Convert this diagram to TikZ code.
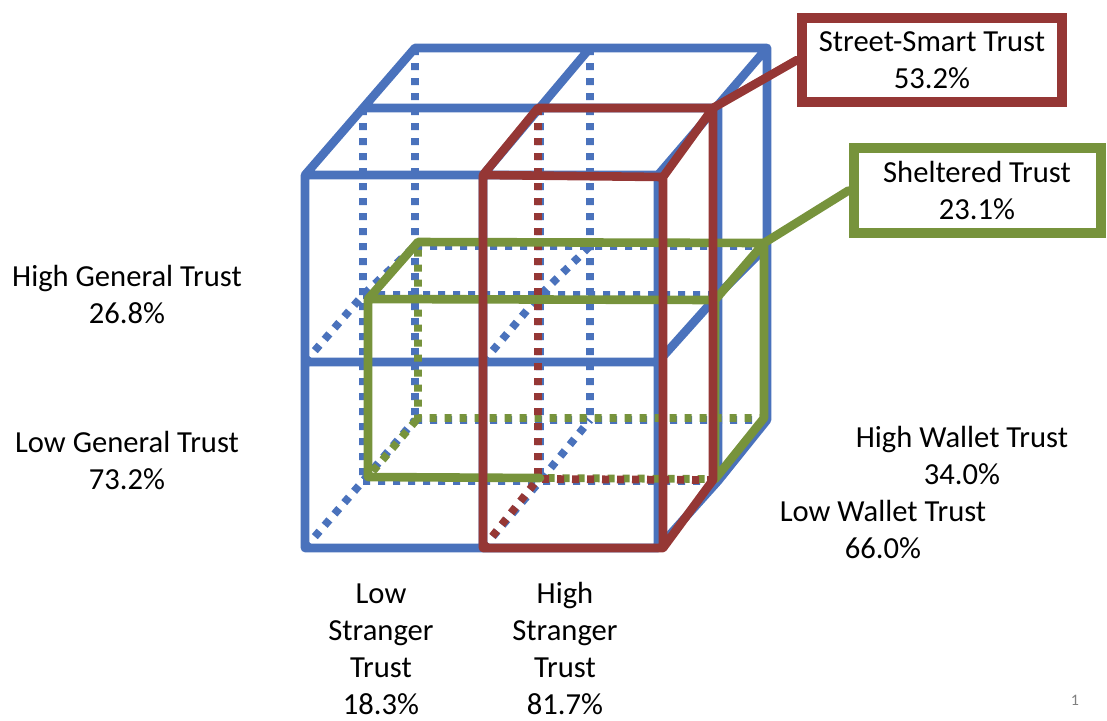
\documentclass[tikz,border=0pt]{standalone}
\usepackage{fontspec}
\setmainfont{Carlito}
\definecolor{cblue}{HTML}{4A72BC}
\definecolor{cred}{HTML}{953735}
\definecolor{cgreen}{HTML}{77933C}
\begin{document}
\begin{tikzpicture}[x=0.5pt,y=-0.5pt,
  solidln/.style={line width=4.3pt,line cap=round,line join=round},
  dotln/.style={line width=3.9pt,dash pattern=on 3.6pt off 3.9pt},
  bluesolid/.style={solidln,draw=cblue},
  bluedot/.style={dotln,draw=cblue},
  greensolid/.style={solidln,draw=cgreen},
  greendot/.style={dotln,draw=cgreen,dash phase=3.75pt},
  redsolid/.style={solidln,draw=cred},
  reddot/.style={dotln,draw=cred},
  lbl/.style={align=center,inner sep=0pt,font=\fontsize{15.3pt}{18.5pt}\selectfont},
  callout/.style={draw=#1,line width=5pt,fill=white,align=center,inner sep=0pt,
    font=\fontsize{15.3pt}{18.5pt}\selectfont}]
\useasboundingbox (0,0) rectangle (1107,720);
% blue cube grid
\coordinate (fTL) at (305,175); \coordinate (fTM) at (483,175); \coordinate (fTR) at (658,175);
\coordinate (fML) at (305,362); \coordinate (fMM) at (483,362); \coordinate (fMR) at (658,362);
\coordinate (fBL) at (305,548); \coordinate (fBM) at (483,548); \coordinate (fBR) at (658,548);
\coordinate (hTL) at (363,108); \coordinate (hTM) at (540,108); \coordinate (hTR) at (718,108);
\coordinate (hML) at (363,295); \coordinate (hMM) at (540,295); \coordinate (hMR) at (718,295);
\coordinate (hBL) at (363,481); \coordinate (hBM) at (540,481); \coordinate (hBR) at (718,481);
\coordinate (bTL) at (415,48);  \coordinate (bTM) at (590,48);  \coordinate (bTR) at (767,48);
\coordinate (bML) at (415,246); \coordinate (bMM) at (590,246); \coordinate (bMR) at (767,246);
\coordinate (bBL) at (415,420); \coordinate (bBM) at (590,420); \coordinate (bBR) at (767,420);
% green box
\coordinate (gFTL) at (368,299); \coordinate (gFTR) at (715,300);
\coordinate (gFBL) at (368,477); \coordinate (gFBX) at (540,478); \coordinate (gFBR) at (715,479);
\coordinate (gBTL) at (418,242); \coordinate (gBTR) at (764,243);
\coordinate (gBBL) at (418,418); \coordinate (gBBR) at (764,418);
% red box
\coordinate (rFTL) at (483,175); \coordinate (rFTR) at (663,177);
\coordinate (rFBL) at (483,548); \coordinate (rFBR) at (663,548);
\coordinate (rBTL) at (538,108); \coordinate (rBTR) at (713,108);
\coordinate (rBBL) at (538,479); \coordinate (rBBR) at (713,480);

% blue hidden lines
\draw[bluedot] (hTL)--(hBL) (hTM)--(hBM) (bTL)--(bBL) (bTM)--(bBM)
  (hML)--(hMR) (hBL)--(hBR) (bML)--(bMR) (bBL)--(bBR)
  (fML)--(hML)--(bML) (fMM)--(hMM)--(bMM) (fBL)--(hBL)--(bBL) (fBM)--(hBM)--(bBM);
% blue visible lines
\draw[bluesolid] (fTL)--(fTR)--(fBR)--(fBL)--cycle (fML)--(fMR) (fTM)--(fBM)
  (fTL)--(bTL) (fTM)--(bTM) (fTR)--(bTR) (hTL)--(hTR) (bTL)--(bTR)
  (hTR)--(hBR) (bTR)--(bBR) (fMR)--(hMR)--(bMR) (fBR)--(hBR)--(bBR);
% green hidden
\draw[greendot] (gBTL)--(gBBL)--(gBBR) (gFBL)--(gBBL) (gFBX)--(gFBR);
% red hidden
\draw[reddot] (rBTL)--(rBBL)--(rBBR) (rFBL)--(rBBL);
% green visible
\draw[greensolid] (gFTL)--(gFTR)--(gBTR)--(gBTL)--cycle
  (gFTL)--(gFBL)--(gFBX) (gFTR)--(gFBR)--(gBBR)--(gBTR);
% red visible
\draw[redsolid] (rFTL)--(rFTR)--(rFBR)--(rFBL)--cycle
  (rFTL)--(rBTL)--(rBTR)--(rFTR) (rBTR)--(rBBR)--(rFBR);

% callouts
\node[callout=cred,minimum width=130pt,minimum height=42pt] (ss) at (932,60)
  {Street-Smart Trust\\53.2\%};
\node[callout=cgreen,minimum width=123.5pt,minimum height=42.5pt] (sh) at (977,190.5)
  {Sheltered Trust\\23.1\%};
\draw[redsolid] (rBTR) -- (ss.west);
\draw[greensolid] (gBTR) -- (sh.west);

% axis labels
\node[lbl] (hg) at (127,294) {High General Trust\\26.8\%};
\node[lbl] (lg) at (127,460) {Low General Trust\\73.2\%};
\node[lbl] (hw) at (962,455) {High Wallet Trust\\34.0\%};
\node[lbl] (lw) at (883,529) {Low Wallet Trust\\66.0\%};
\node[lbl] (ls) at (381,649.5) {Low\\Stranger\\Trust\\18.3\%};
\node[lbl] (hs) at (565,648.5) {High\\Stranger\\Trust\\81.7\%};
\node[inner sep=0pt,text=gray,font=\fontsize{8pt}{9pt}\selectfont] (pg) at (1075,700) {1};
\end{tikzpicture}
\end{document}
